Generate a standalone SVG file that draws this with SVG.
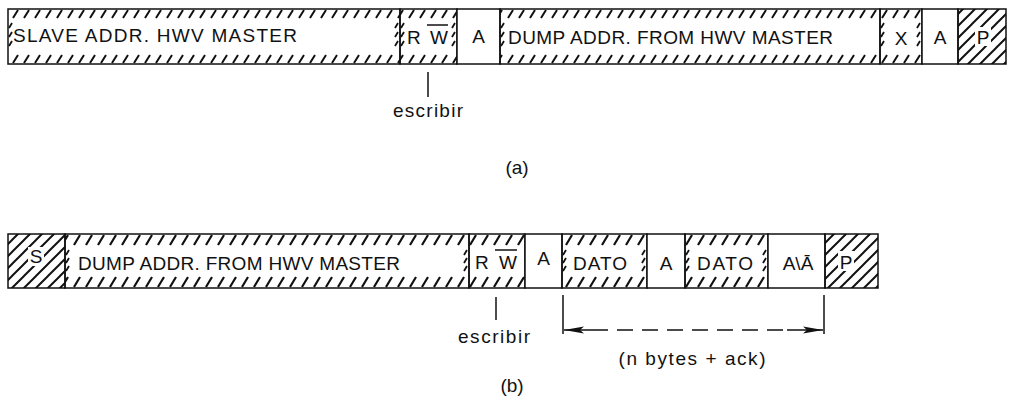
<svg xmlns="http://www.w3.org/2000/svg" width="1012" height="400" viewBox="0 0 1012 400">
<style>
.cell{stroke:#111;stroke-width:1.5}
.w{fill:#fff}
.ha{fill:url(#ha)}
.hb{fill:url(#hb)}
.hf{fill:url(#hf)}
.in{fill:#fff;stroke:none}
.sm{fill:none;stroke:#111;stroke-width:1.8}
.t{font-family:"Liberation Sans",Arial,sans-serif;font-size:19px;fill:#111}
.ln{stroke:#111;stroke-width:1.5;fill:none}
</style>
<defs>
<pattern id="ha" patternUnits="userSpaceOnUse" x="0" y="9" width="11" height="55">
<path d="M2,9 L7,1 M2,54 L7,46" stroke="#111" stroke-width="2"/>
</pattern>
<pattern id="hb" patternUnits="userSpaceOnUse" x="0" y="234" width="12" height="54">
<path d="M2,11 L8,1 M2,53 L8,43" stroke="#111" stroke-width="2.2"/>
</pattern>
<pattern id="hf" patternUnits="userSpaceOnUse" x="0" y="0" width="12" height="12">
<path d="M-1,13 L13,-1 M-2,2 L2,-2 M10,14 L14,10" stroke="#111" stroke-width="2"/>
</pattern>
<marker id="ah" viewBox="0 0 20 8" refX="20" refY="4" markerWidth="20" markerHeight="8" markerUnits="userSpaceOnUse" orient="auto-start-reverse">
<path d="M0,0.5 L20,4 L0,7.5 L4,4 Z" fill="#111"/>
</marker>
</defs>

<g id="row-a">
<g id="a-slave">
<rect class="cell ha" x="8" y="9" width="392" height="55"/>
<rect class="in" x="13" y="20" width="382" height="33"/>
<path class="sm" d="M9,28 l3,-5 m-3,14 l3,-5 m-3,14 l3,-5 M395,28 l3,-5 m-3,14 l3,-5 m-3,14 l3,-5"/>
<text class="t" x="13" y="42" textLength="284" lengthAdjust="spacing">SLAVE ADDR. HWV MASTER</text>
</g>
<g id="a-rw">
<rect class="cell ha" x="400" y="9" width="57" height="55"/>
<rect class="in" x="405" y="20" width="47" height="33"/>
<path class="sm" d="M401,28 l3,-5 m-3,14 l3,-5 m-3,14 l3,-5 M452,28 l3,-5 m-3,14 l3,-5 m-3,14 l3,-5"/>
<text class="t" x="407" y="44" textLength="41" lengthAdjust="spacing">RW</text>
<line class="ln" x1="427" y1="25" x2="448" y2="25"/>
</g>
<g id="a-ack1">
<rect class="cell w" x="457" y="9" width="43" height="55"/>
<text class="t" x="478.5" y="43" text-anchor="middle">A</text>
</g>
<g id="a-dump">
<rect class="cell ha" x="500" y="9" width="380" height="55"/>
<rect class="in" x="505" y="20" width="370" height="33"/>
<path class="sm" d="M501,28 l3,-5 m-3,14 l3,-5 m-3,14 l3,-5"/>
<text class="t" x="508" y="44" textLength="325" lengthAdjust="spacing">DUMP ADDR. FROM HWV MASTER</text>
</g>
<g id="a-x">
<rect class="cell ha" x="880" y="9" width="42" height="55"/>
<rect class="in" x="885" y="20" width="32" height="33"/>
<path class="sm" d="M881,28 l3,-5 m-3,14 l3,-5 m-3,14 l3,-5 M917,28 l3,-5 m-3,14 l3,-5 m-3,14 l3,-5"/>
<text class="t" x="901" y="45" text-anchor="middle">X</text>
</g>
<g id="a-ack2">
<rect class="cell w" x="922" y="9" width="36" height="55"/>
<text class="t" x="940" y="44" text-anchor="middle">A</text>
</g>
<g id="a-p">
<rect class="cell hf" x="958" y="9" width="48" height="55"/>
<rect class="in" x="975" y="27" width="16" height="19"/>
<text class="t" x="983" y="44" text-anchor="middle">P</text>
</g>
</g>

<g id="row-b">
<g id="b-s">
<rect class="cell hf" x="8" y="234" width="57" height="54"/>
<rect class="in" x="28" y="247" width="16" height="19"/>
<text class="t" x="36" y="263" text-anchor="middle">S</text>
</g>
<g id="b-dump">
<rect class="cell hb" x="65" y="234" width="404" height="54"/>
<rect class="in" x="70" y="247" width="394" height="28"/>
<path class="sm" d="M66,255 l3,-5 m-3,13 l3,-5 m-3,13 l3,-5 M464,255 l3,-5 m-3,13 l3,-5 m-3,13 l3,-5"/>
<text class="t" x="78" y="270" textLength="322" lengthAdjust="spacing">DUMP ADDR. FROM HWV MASTER</text>
</g>
<g id="b-rw">
<rect class="cell hb" x="469" y="234" width="56" height="54"/>
<rect class="in" x="474" y="247" width="46" height="28"/>
<text class="t" x="475" y="269" textLength="42" lengthAdjust="spacing">RW</text>
<line class="ln" x1="495" y1="250" x2="517" y2="250"/>
</g>
<g id="b-ack1">
<rect class="cell w" x="525" y="234" width="37" height="54"/>
<text class="t" x="543.5" y="265" text-anchor="middle">A</text>
</g>
<g id="b-dato1">
<rect class="cell hb" x="562" y="234" width="85" height="54"/>
<rect class="in" x="567" y="247" width="75" height="28"/>
<path class="sm" d="M563,255 l3,-5 m-3,13 l3,-5 m-3,13 l3,-5 M642,255 l3,-5 m-3,13 l3,-5 m-3,13 l3,-5"/>
<text class="t" x="573" y="270" textLength="54" lengthAdjust="spacing">DATO</text>
</g>
<g id="b-ack2">
<rect class="cell w" x="647" y="234" width="38" height="54"/>
<text class="t" x="666" y="270" text-anchor="middle">A</text>
</g>
<g id="b-dato2">
<rect class="cell hb" x="685" y="234" width="83" height="54"/>
<rect class="in" x="690" y="247" width="73" height="28"/>
<path class="sm" d="M686,255 l3,-5 m-3,13 l3,-5 m-3,13 l3,-5 M763,255 l3,-5 m-3,13 l3,-5 m-3,13 l3,-5"/>
<text class="t" x="697" y="270" textLength="56" lengthAdjust="spacing">DATO</text>
</g>
<g id="b-ack3">
<rect class="cell w" x="768" y="234" width="57" height="54"/>
<text class="t" x="798" y="270" text-anchor="middle">A\Ā</text>
</g>
<g id="b-p">
<rect class="cell hf" x="825" y="234" width="53" height="54"/>
<rect class="in" x="838" y="251" width="16" height="20"/>
<text class="t" x="846" y="269" text-anchor="middle">P</text>
</g>
</g>

<g id="connectors">
<line class="ln" x1="428" y1="72" x2="428" y2="97"/>
<line class="ln" x1="496" y1="297" x2="496" y2="320"/>
<line class="ln" x1="563" y1="295" x2="563" y2="334"/>
<line class="ln" x1="824" y1="295" x2="824" y2="334"/>
<line class="ln" x1="564" y1="330" x2="592" y2="330" stroke-width="2" marker-start="url(#ah)"/>
<line class="ln" x1="592" y1="330" x2="787" y2="330" stroke-dasharray="16 9"/>
<line class="ln" x1="787" y1="330" x2="823" y2="330" stroke-width="2" marker-end="url(#ah)"/>
</g>

<g id="labels">
<text class="t" x="428" y="117" text-anchor="middle" textLength="70" lengthAdjust="spacing">escribir</text>
<text class="t" x="517" y="174" text-anchor="middle">(a)</text>
<text class="t" x="494" y="343" text-anchor="middle" textLength="72" lengthAdjust="spacing">escribir</text>
<text class="t" x="692" y="365" text-anchor="middle" textLength="147" lengthAdjust="spacing">(n bytes + ack)</text>
<text class="t" x="512" y="392" text-anchor="middle">(b)</text>
</g>
</svg>
